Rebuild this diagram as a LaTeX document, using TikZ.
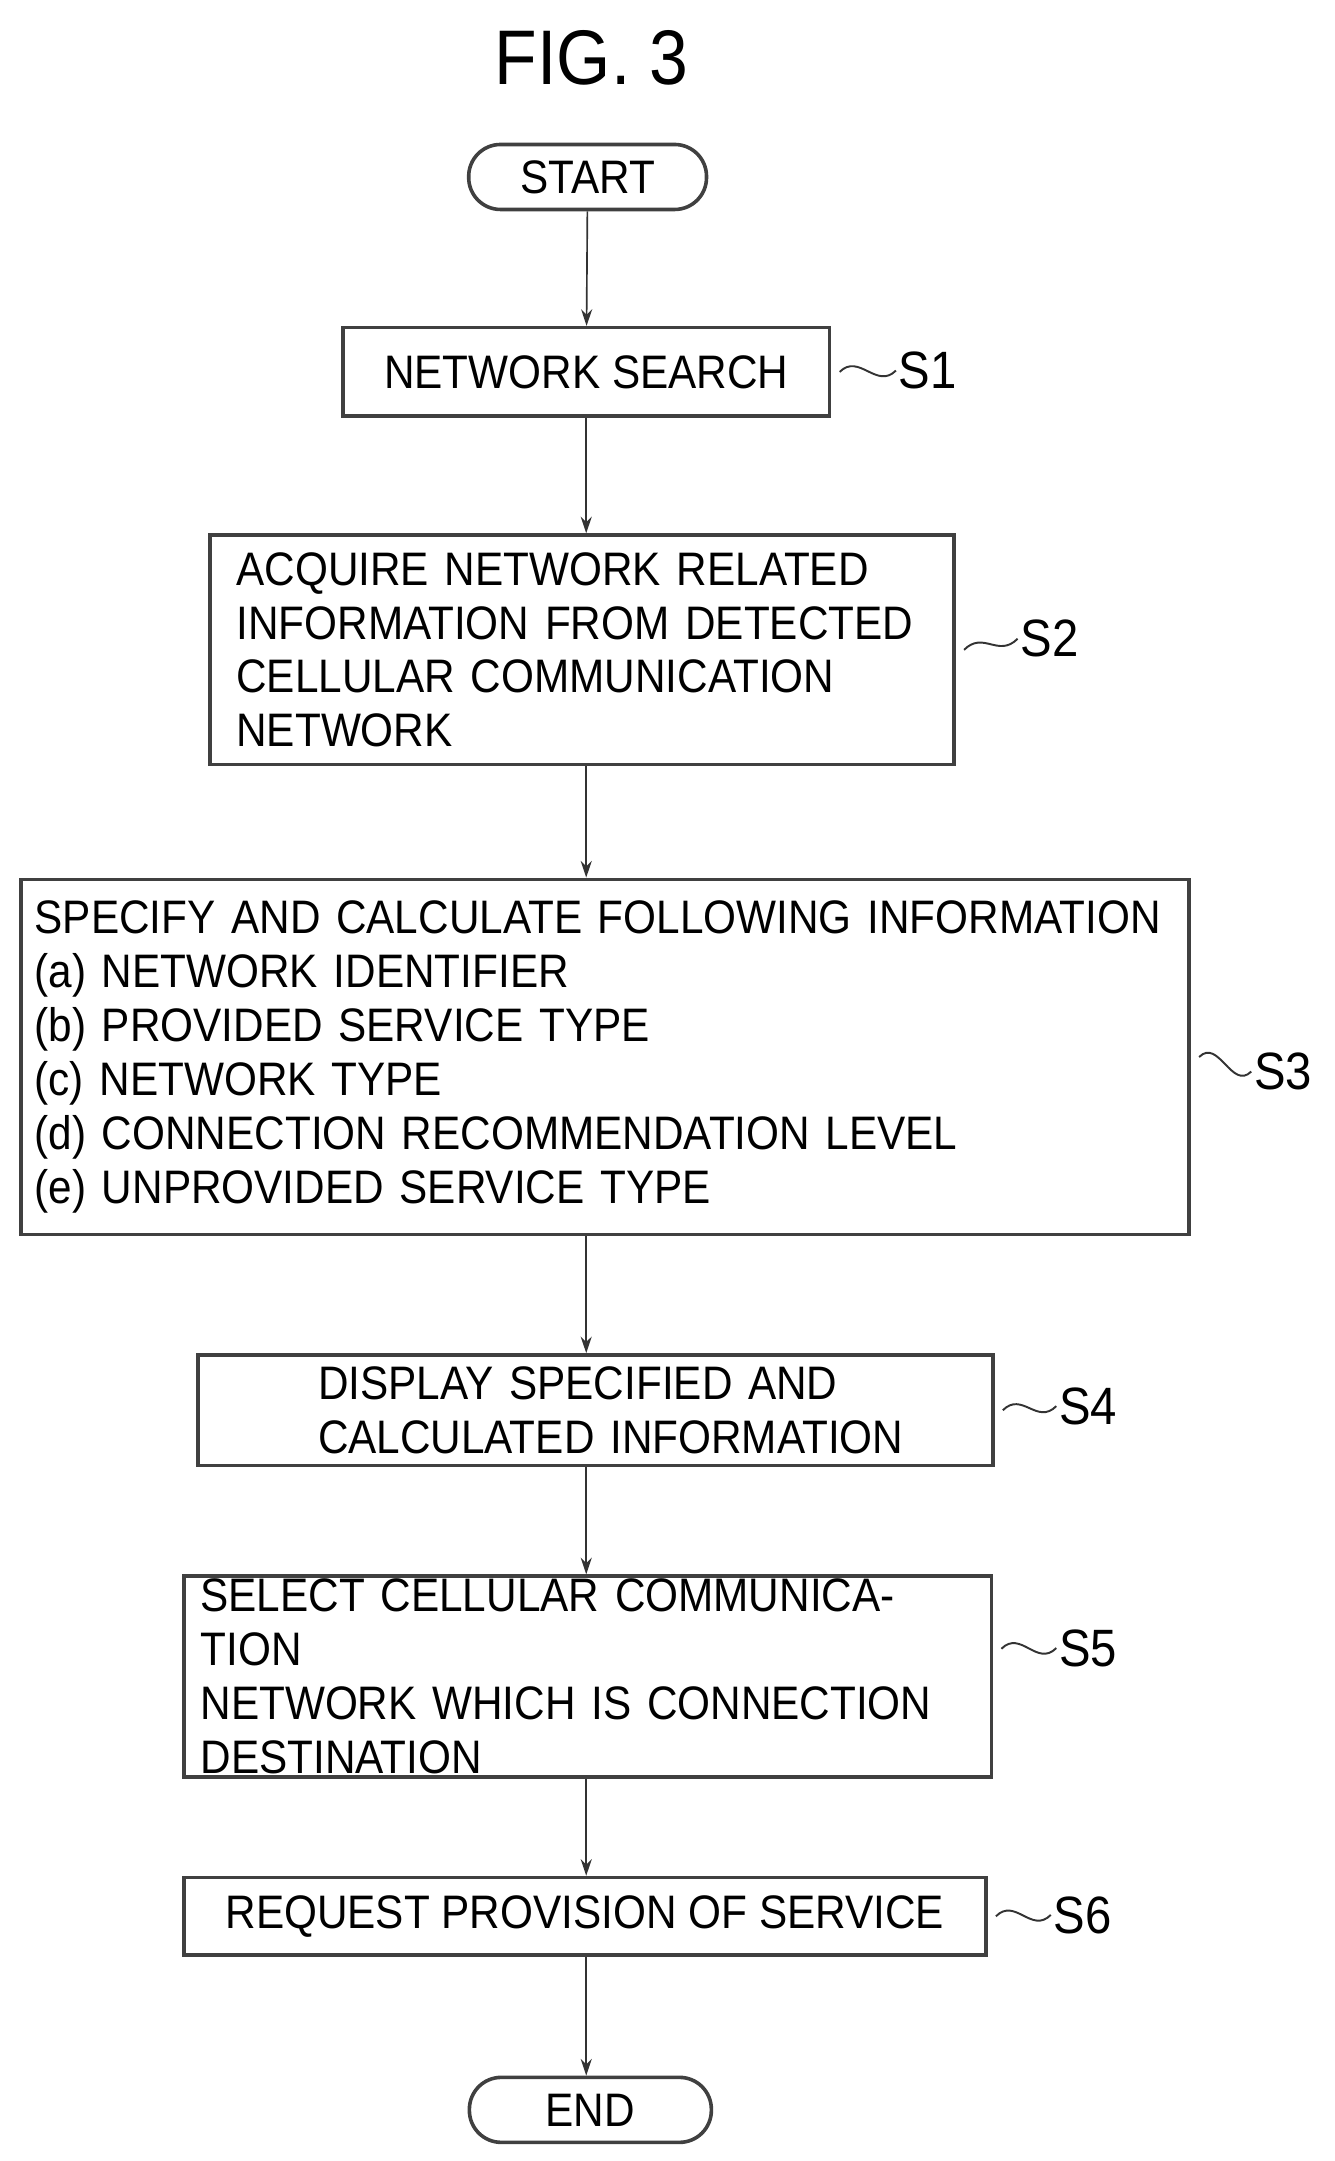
\documentclass[tikz,border=0pt]{standalone}
\usepackage{fontspec}
\setmainfont{Liberation Sans}[FakeStretch=0.9]
\usetikzlibrary{arrows.meta}
\tikzset{
  box/.style={draw=black!75,line width=2.6pt,inner ysep=2pt,font=\fontsize{34}{39}\selectfont},
  term/.style={box,rounded corners=23pt,minimum width=172pt,minimum height=47pt},
  steplabel/.style={font=\fontsize{38}{40}\selectfont,inner sep=0pt},
  flow/.style={draw=black!80,line width=1.2pt,-{Stealth[length=12pt,width=8pt]}},
  wave/.style={draw=black!80,line width=1.4pt}
}
\begin{document}
\begin{tikzpicture}[x=1pt,y=1pt]
  \useasboundingbox (0,0) rectangle (965,-1563);
  \node[font=\fontsize{56}{60}\selectfont] (fig) at (428,-42) {FIG. 3};

  \node[term] (start) at (425,-128) {START};
  \node[box,minimum width=352pt,minimum height=64pt] (s1) at (424,-269) {NETWORK SEARCH};
  \node[box,minimum height=166pt,text width=500pt,inner xsep=19pt,align=left] (s2) at (421,-470)
    {ACQUIRE NETWORK RELATED\\INFORMATION FROM DETECTED\\CELLULAR COMMUNICATION\\NETWORK};
  \node[box,minimum height=257pt,text width=825pt,inner xsep=10pt,align=left] (s3) at (437.5,-764.5)
    {SPECIFY AND CALCULATE FOLLOWING INFORMATION\\(a) NETWORK IDENTIFIER\\(b) PROVIDED SERVICE TYPE\\(c) NETWORK TYPE\\(d) CONNECTION RECOMMENDATION LEVEL\\(e) UNPROVIDED SERVICE TYPE};
  \node[box,minimum height=80pt,text width=449pt,inner xsep=63pt,align=left] (s4) at (430.5,-1020)
    {\hspace*{24pt}DISPLAY SPECIFIED AND\\\hspace*{24pt}CALCULATED INFORMATION};
  \node[box,minimum height=125pt,text width=560pt,inner xsep=12pt,align=left] (s5) at (425,-1212.5)
    {SELECT CELLULAR COMMUNICATION\\NETWORK WHICH IS CONNECTION\\DESTINATION};
  \node[box,minimum width=580pt,minimum height=56pt] (s6) at (423,-1386) {REQUEST PROVISION OF SERVICE};
  \node[term,minimum width=175pt] (end) at (427,-1526) {END};

  % step labels
  \node[steplabel,anchor=west] (l1) at (650,-268) {S1};
  \node[steplabel,anchor=west] (l2) at (738,-462) {S2};
  \node[steplabel,anchor=west] (l3) at (907,-775) {S3};
  \node[steplabel,anchor=west] (l4) at (766,-1017) {S4};
  \node[steplabel,anchor=west] (l5) at (766,-1192) {S5};
  \node[steplabel,anchor=west] (l6) at (762,-1385) {S6};
  \foreach \b/\l in {s1/l1,s2/l2,s3/l3,s4/l4,s6/l6}
    \draw[wave] ([xshift=6pt]\b.east) .. controls +(14,14) and +(-14,-14) .. ([xshift=-2pt]\l.west);
  \draw[wave] ([xshift=6pt,yshift=20pt]s5.east) .. controls +(14,14) and +(-14,-14) .. ([xshift=-2pt]l5.west);

  % flow
  \draw[flow] (start) -- (s1);
  \draw[flow] (s1) -- (s2.north -| s1);
  \draw[flow] (s2.south -| s1) -- (s3.north -| s1);
  \draw[flow] (s3.south -| s1) -- (s4.north -| s1);
  \draw[flow] (s4.south -| s1) -- (s5.north -| s1);
  \draw[flow] (s5.south -| s1) -- (s6.north -| s1);
  \draw[flow] (s6.south -| s1) -- (end.north -| s1);
\end{tikzpicture}
\end{document}
